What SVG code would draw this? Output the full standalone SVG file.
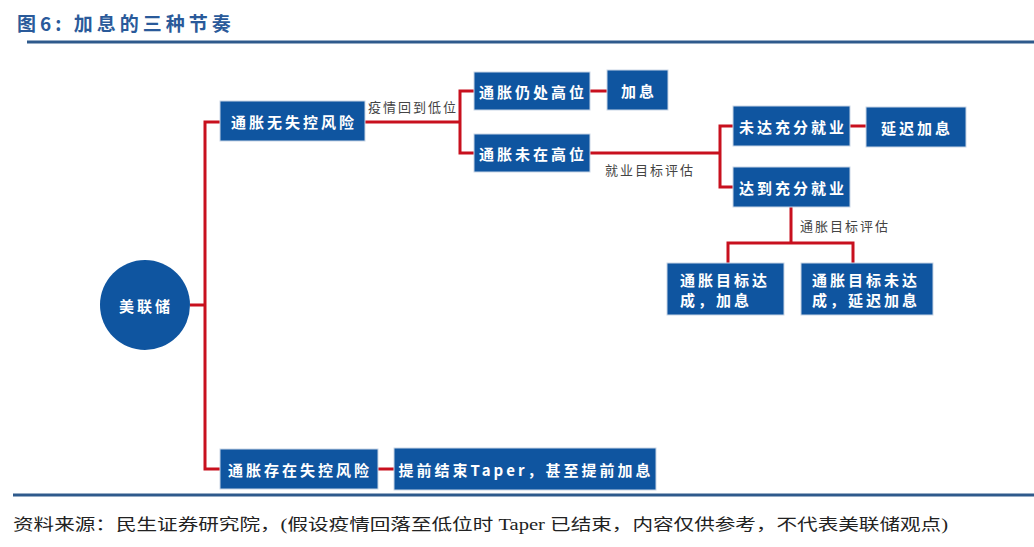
<svg xmlns="http://www.w3.org/2000/svg" width="1034" height="547" viewBox="0 0 1034 547">
<style>
.box{fill:#0f55a0;stroke:#c9d6e6;stroke-width:1}
.bt{fill:#ffffff;font-family:"Noto Sans CJK SC",sans-serif;font-size:15px;font-weight:bold;letter-spacing:3px;text-anchor:middle;dominant-baseline:central}
.lbl{fill:#444;font-family:"Noto Sans CJK SC",sans-serif;font-size:13px;letter-spacing:2px}
.con{fill:none;stroke:#c8101e;stroke-width:3}
</style>
<rect width="1034" height="547" fill="#fff"/>
<text x="17" y="31" fill="#2a5a9a" font-family="Noto Sans CJK SC,sans-serif" font-size="19" font-weight="bold" letter-spacing="4">图6: 加息的三种节奏</text>
<line x1="27" y1="42" x2="1034" y2="42" stroke="#2e5a8c" stroke-width="3"/>
<line x1="13" y1="495" x2="1034" y2="495" stroke="#2e5a8c" stroke-width="3"/>
<text x="13" y="530" fill="#222" font-family="Liberation Serif,Noto Sans CJK SC,serif" font-size="16" textLength="935" lengthAdjust="spacingAndGlyphs">资料来源：民生证券研究院，(假设疫情回落至低位时 Taper 已结束，内容仅供参考，不代表美联储观点)</text>
<g id="connectors">
<path class="con" d="M190 305H205M220 122H205V469H220"/>
<path class="con" d="M365 122H460M474 91H460V153H474"/>
<path class="con" d="M590 91H607"/>
<path class="con" d="M590 153H720M733 126H720V187H733"/>
<path class="con" d="M850 126H866"/>
<path class="con" d="M791 207V243M728 263V243H853V263"/>
<path class="con" d="M378 469H394"/>
<text class="lbl" x="368" y="112">疫情回到低位</text>
<text class="lbl" x="605" y="175">就业目标评估</text>
<text class="lbl" x="800" y="231">通胀目标评估</text>
</g>
<g id="fed"><circle cx="145" cy="305" r="45" fill="#0f55a0"/><text class="bt" x="146" y="305">美联储</text></g>
<g id="n1"><rect class="box" x="220" y="101" width="145" height="40"/><text class="bt" x="294" y="121">通胀无失控风险</text></g>
<g id="n2"><rect class="box" x="474" y="72" width="116" height="38"/><text class="bt" x="533" y="91">通胀仍处高位</text></g>
<g id="n3"><rect class="box" x="607" y="70" width="61" height="40"/><text class="bt" x="639" y="90">加息</text></g>
<g id="n4"><rect class="box" x="474" y="134" width="116" height="38"/><text class="bt" x="533" y="153">通胀未在高位</text></g>
<g id="n5"><rect class="box" x="733" y="106" width="117" height="40"/><text class="bt" x="793" y="126">未达充分就业</text></g>
<g id="n6"><rect class="box" x="866" y="107" width="100" height="40"/><text class="bt" x="917" y="127">延迟加息</text></g>
<g id="n7"><rect class="box" x="733" y="167" width="117" height="40"/><text class="bt" x="793" y="187">达到充分就业</text></g>
<g id="n8"><rect class="box" x="667" y="263" width="117" height="52"/><text class="bt" x="680" y="279" style="text-anchor:start">通胀目标达</text><text class="bt" x="680" y="299" style="text-anchor:start">成，加息</text></g>
<g id="n9"><rect class="box" x="801" y="263" width="132" height="52"/><text class="bt" x="812" y="279" style="text-anchor:start">通胀目标未达</text><text class="bt" x="812" y="299" style="text-anchor:start">成，延迟加息</text></g>
<g id="n10"><rect class="box" x="220" y="449" width="158" height="40"/><text class="bt" x="300" y="469">通胀存在失控风险</text></g>
<g id="n11"><rect class="box" x="394" y="448" width="262" height="42"/><text class="bt" x="526" y="469">提前结束Taper，甚至提前加息</text></g>
</svg>
